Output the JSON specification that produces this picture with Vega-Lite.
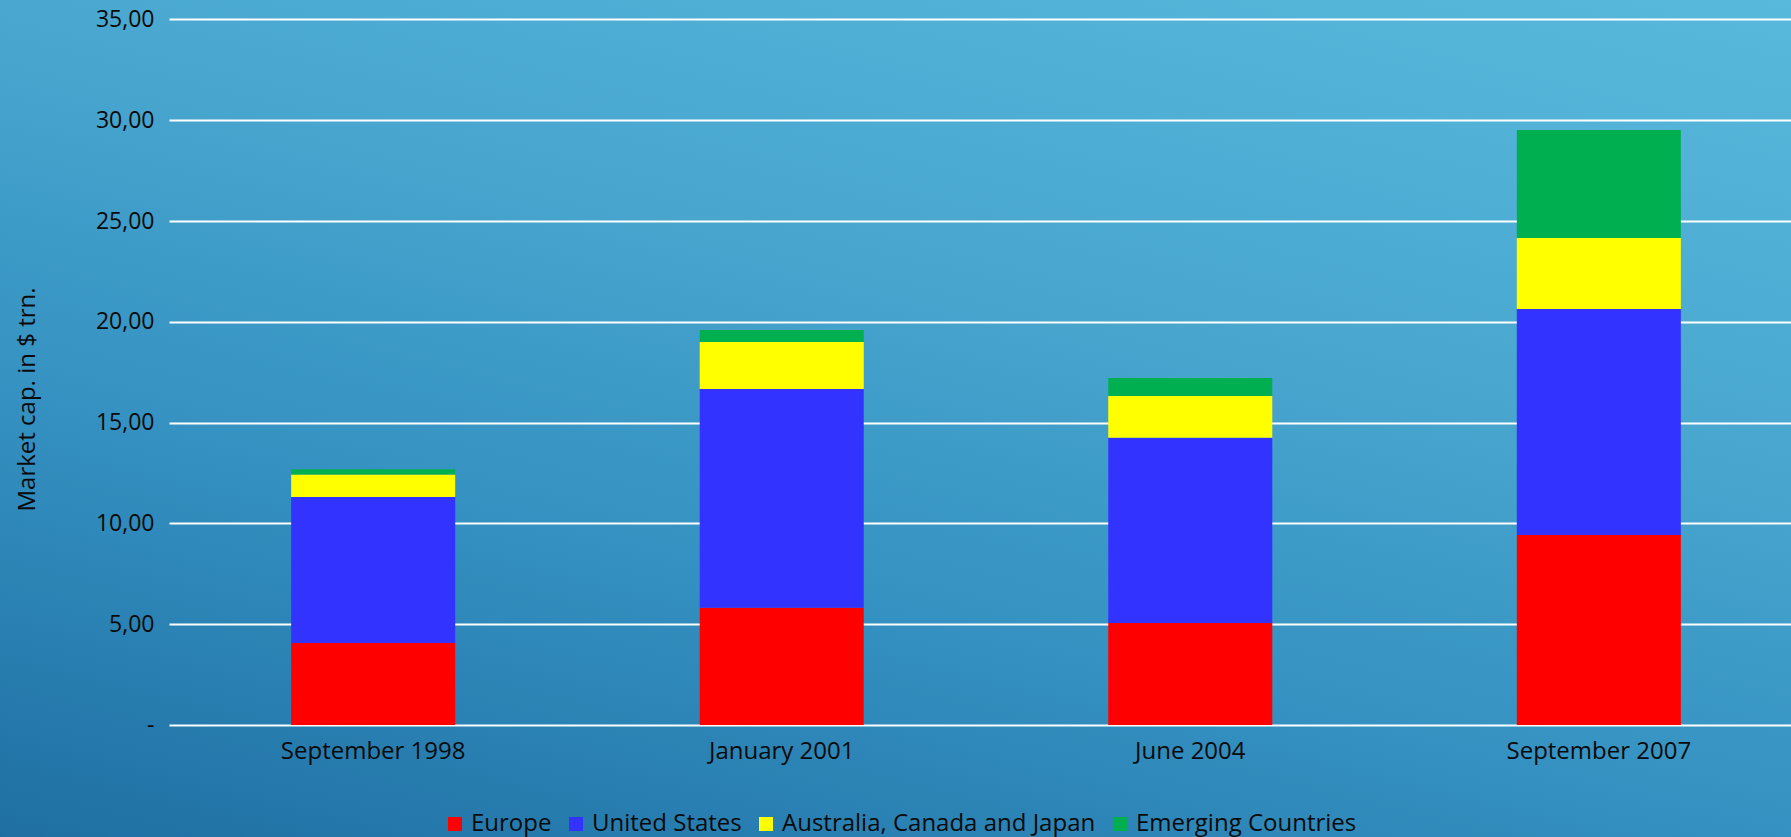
{
  "$schema": "https://vega.github.io/schema/vega-lite/v6.json",
  "width": 1791,
  "height": 837,
  "autosize": {"type": "none"},
  "padding": 0,
  "background": "#3a93c2",
  "data": {
    "values": [
      {"period": "September 1998", "region": "Europe", "value": 4.07},
      {"period": "September 1998", "region": "United States", "value": 7.24},
      {"period": "September 1998", "region": "Australia, Canada and Japan", "value": 1.11},
      {"period": "September 1998", "region": "Emerging Countries", "value": 0.26},
      {"period": "January 2001", "region": "Europe", "value": 5.82},
      {"period": "January 2001", "region": "United States", "value": 10.85},
      {"period": "January 2001", "region": "Australia, Canada and Japan", "value": 2.33},
      {"period": "January 2001", "region": "Emerging Countries", "value": 0.59},
      {"period": "June 2004", "region": "Europe", "value": 5.06},
      {"period": "June 2004", "region": "United States", "value": 9.19},
      {"period": "June 2004", "region": "Australia, Canada and Japan", "value": 2.07},
      {"period": "June 2004", "region": "Emerging Countries", "value": 0.89},
      {"period": "September 2007", "region": "Europe", "value": 9.42},
      {"period": "September 2007", "region": "United States", "value": 11.22},
      {"period": "September 2007", "region": "Australia, Canada and Japan", "value": 3.52},
      {"period": "September 2007", "region": "Emerging Countries", "value": 5.35}
    ]
  },
  "transform": [
    {"calculate": "indexof(['Europe', 'United States', 'Australia, Canada and Japan', 'Emerging Countries'], datum.region)", "as": "stackOrder"}
  ],
  "mark": {"type": "bar"},
  "encoding": {
    "x": {
      "field": "period",
      "type": "nominal",
      "sort": ["September 1998", "January 2001", "June 2004", "September 2007"],
      "scale": {"range": [169, 1803], "paddingInner": 0.5985, "paddingOuter": 0.299},
      "axis": {
        "title": null,
        "orient": "bottom",
        "offset": -112,
        "domain": false,
        "ticks": false,
        "grid": false,
        "labelAngle": 0,
        "labelPadding": 14,
        "labelFontSize": 24,
        "labelFont": "Open Sans",
        "labelColor": "#0a0a0a",
        "labelLimit": 400
      }
    },
    "y": {
      "field": "value",
      "type": "quantitative",
      "stack": "zero",
      "scale": {"domain": [0, 35], "range": [725, 19.4], "nice": false, "zero": true},
      "axis": {
        "title": "Market cap. in $ trn.",
        "orient": "left",
        "offset": -169,
        "values": [0, 5, 10, 15, 20, 25, 30, 35],
        "labelExpr": "datum.value == 0 ? '-' : replace(format(datum.value, '.2f'), '.', ',')",
        "domain": false,
        "ticks": false,
        "grid": true,
        "gridColor": "#ffffff",
        "gridWidth": 2,
        "gridOpacity": 1,
        "labelPadding": 15,
        "labelFontSize": 23,
        "labelFont": "Open Sans",
        "labelColor": "#0a0a0a",
        "titleFont": "Open Sans",
        "titleFontSize": 24,
        "titleFontWeight": "normal",
        "titleColor": "#0a0a0a",
        "titlePadding": 56,
        "titleY": 399
      }
    },
    "order": {"field": "stackOrder", "type": "quantitative", "sort": "ascending"},
    "color": {
      "field": "region",
      "type": "nominal",
      "sort": ["Europe", "United States", "Australia, Canada and Japan", "Emerging Countries"],
      "scale": {
        "domain": ["Europe", "United States", "Australia, Canada and Japan", "Emerging Countries"],
        "range": ["#ff0000", "#3333ff", "#ffff00", "#00b050"]
      },
      "legend": {
        "title": null,
        "orient": "none",
        "direction": "horizontal",
        "legendX": 443,
        "legendY": 812,
        "symbolType": "square",
        "symbolSize": 196,
        "symbolStrokeWidth": 0,
        "symbolOpacity": 1,
        "labelOffset": 4,
        "columnPadding": 12,
        "labelFontSize": 24,
        "labelFont": "Open Sans",
        "labelColor": "#0a0a0a",
        "labelLimit": 500
      }
    }
  },
  "config": {
    "view": {
      "stroke": null,
      "fill": {
        "gradient": "linear",
        "x1": 0,
        "y1": 1,
        "x2": 0.629,
        "y2": -0.196,
        "stops": [
          {"offset": 0, "color": "#1f6fa3"},
          {"offset": 0.345, "color": "#3491c1"},
          {"offset": 0.655, "color": "#4aa8d0"},
          {"offset": 1, "color": "#58b9dc"}
        ]
      }
    },
    "bar": {"stroke": null}
  }
}
